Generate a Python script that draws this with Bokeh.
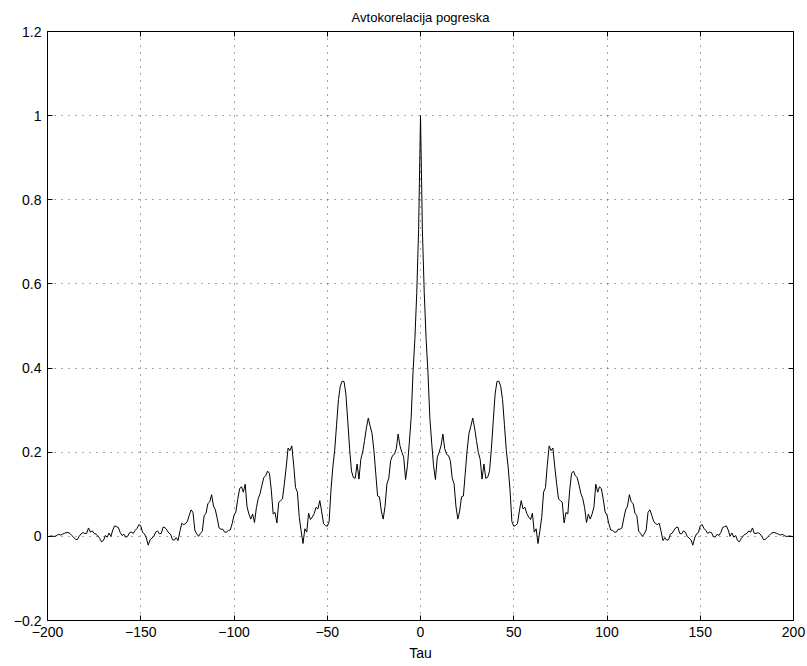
from bokeh.plotting import figure
from bokeh.models import FixedTicker, LinearAxis, Range1d
from bokeh.embed import file_html
from bokeh.resources import INLINE

# Autocorrelation values, for lags 0..199 (the curve is symmetric)
acf_right = [
    1.000, 0.730, 0.580, 0.470, 0.390, 0.283, 0.222, 0.168, 0.135, 0.188,
    0.200, 0.215, 0.243, 0.208, 0.195, 0.192, 0.180, 0.138, 0.125, 0.072,
    0.041, 0.060, 0.094, 0.096, 0.150, 0.205, 0.245, 0.262, 0.281, 0.258,
    0.228, 0.200, 0.183, 0.136, 0.172, 0.138, 0.140, 0.155, 0.208, 0.274,
    0.338, 0.368, 0.369, 0.357, 0.325, 0.265, 0.205, 0.165, 0.110, 0.035,
    0.024, 0.026, 0.030, 0.060, 0.085, 0.065, 0.069, 0.054, 0.046, 0.040,
    0.055, 0.010, 0.018, -0.017, 0.013, 0.045, 0.105, 0.116, 0.170, 0.215,
    0.204, 0.210, 0.165, 0.125, 0.089, 0.085, 0.081, 0.032, 0.057, 0.053,
    0.110, 0.150, 0.155, 0.144, 0.140, 0.122, 0.102, 0.090, 0.068, 0.033,
    0.053, 0.041, 0.053, 0.070, 0.124, 0.105, 0.118, 0.113, 0.088, 0.058,
    0.050, 0.030, 0.015, 0.014, 0.010, 0.010, 0.017, 0.017, 0.020, 0.043,
    0.063, 0.072, 0.099, 0.082, 0.078, 0.055, 0.049, 0.012, 0.007, 0.000,
    0.006, 0.015, 0.057, 0.063, 0.050, 0.036, 0.030, 0.028, 0.031, 0.012,
    -0.010, -0.003, -0.009, -0.008, 0.005, 0.008, 0.015, 0.021, 0.022, 0.007,
    0.006, 0.013, 0.010, 0.000, -0.004, -0.008, -0.021, -0.004, 0.006, 0.009,
    0.025, 0.028, 0.019, 0.014, 0.007, 0.010, 0.009, 0.000, -0.002, 0.005,
    0.002, 0.009, 0.021, 0.023, 0.025, 0.015, 0.000, 0.008, -0.002, 0.002,
    -0.010, -0.013, -0.005, 0.001, 0.005, 0.007, 0.013, 0.010, 0.020, 0.007,
    0.007, 0.009, 0.006, 0.000, -0.008, -0.007, -0.002, 0.002, 0.007, 0.009,
    0.009, 0.007, 0.005, 0.003, 0.005, 0.002, 0.000, 0.000, 0.001, 0.000,
]
max_lag = len(acf_right) - 1
lags = list(range(-max_lag, max_lag + 1))
acf = acf_right[::-1] + acf_right[1:]

x_ticks = [-200, -150, -100, -50, 0, 50, 100, 150, 200]
y_ticks = [-0.2, 0, 0.2, 0.4, 0.6, 0.8, 1.0, 1.2]
x_labels = {t: (str(t).replace("-", "\u2212")) for t in x_ticks}
y_labels = {-0.2: "\u22120.2", 0: "0", 0.2: "0.2", 0.4: "0.4", 0.6: "0.6",
            0.8: "0.8", 1.0: "1", 1.2: "1.2"}

FONT = "Liberation Sans"
FS = "14px"

p = figure(width=807, height=666, output_backend="svg", toolbar_location=None,
           x_range=Range1d(-200, 200), y_range=Range1d(-0.2, 1.2),
           min_border_left=47, min_border_right=14, min_border_top=31,
           min_border_bottom=46, title="Avtokorelacija pogreska")

p.title.align = "center"
p.title.text_font = FONT
p.title.text_font_size = "13px"
p.title.text_font_style = "normal"
p.title.text_color = "black"
p.title.standoff = 13

p.background_fill_color = "white"
p.border_fill_color = "white"
p.outline_line_color = "black"
p.outline_line_width = 1

p.line(lags, acf, line_color="black", line_width=1)

for ax, ticks, labels in ((p.xaxis[0], x_ticks, x_labels), (p.yaxis[0], y_ticks, y_labels)):
    ax.ticker = FixedTicker(ticks=ticks)
    ax.major_label_overrides = labels
    ax.major_tick_in = 5
    ax.major_tick_out = 0
    ax.minor_tick_in = 0
    ax.minor_tick_out = 0
    ax.axis_line_color = "black"
    ax.major_tick_line_color = "black"
    ax.major_label_text_font = FONT
    ax.major_label_text_font_size = FS
    ax.major_label_text_color = "black"

p.xaxis[0].major_label_standoff = 6
p.yaxis[0].major_label_standoff = 6
p.xaxis[0].axis_label = "Tau"
p.xaxis[0].axis_label_text_font = FONT
p.xaxis[0].axis_label_text_font_size = FS
p.xaxis[0].axis_label_text_font_style = "normal"
p.xaxis[0].axis_label_text_color = "black"
p.xaxis[0].axis_label_standoff = 5

# mirror axes (ticks only) on top and right
top = LinearAxis(ticker=FixedTicker(ticks=x_ticks),
                 major_label_overrides={t: "" for t in x_ticks},
                 major_label_text_font_size="0px",
                 major_tick_in=5, major_tick_out=0, minor_tick_in=0, minor_tick_out=0,
                 major_label_standoff=0, axis_line_color="black")
right = LinearAxis(ticker=FixedTicker(ticks=y_ticks),
                   major_label_overrides={t: "" for t in y_ticks},
                   major_label_text_font_size="0px",
                   major_tick_in=5, major_tick_out=0, minor_tick_in=0, minor_tick_out=0,
                   major_label_standoff=0, axis_line_color="black")
p.add_layout(top, "above")
p.add_layout(right, "right")

for g, ticks in ((p.xgrid[0], x_ticks), (p.ygrid[0], y_ticks)):
    g.ticker = FixedTicker(ticks=ticks)
    g.grid_line_color = "black"
    g.grid_line_alpha = 0.7
    g.grid_line_dash = "1 6"
    g.grid_line_width = 1

open("out.html", "w").write(file_html(p, INLINE))
